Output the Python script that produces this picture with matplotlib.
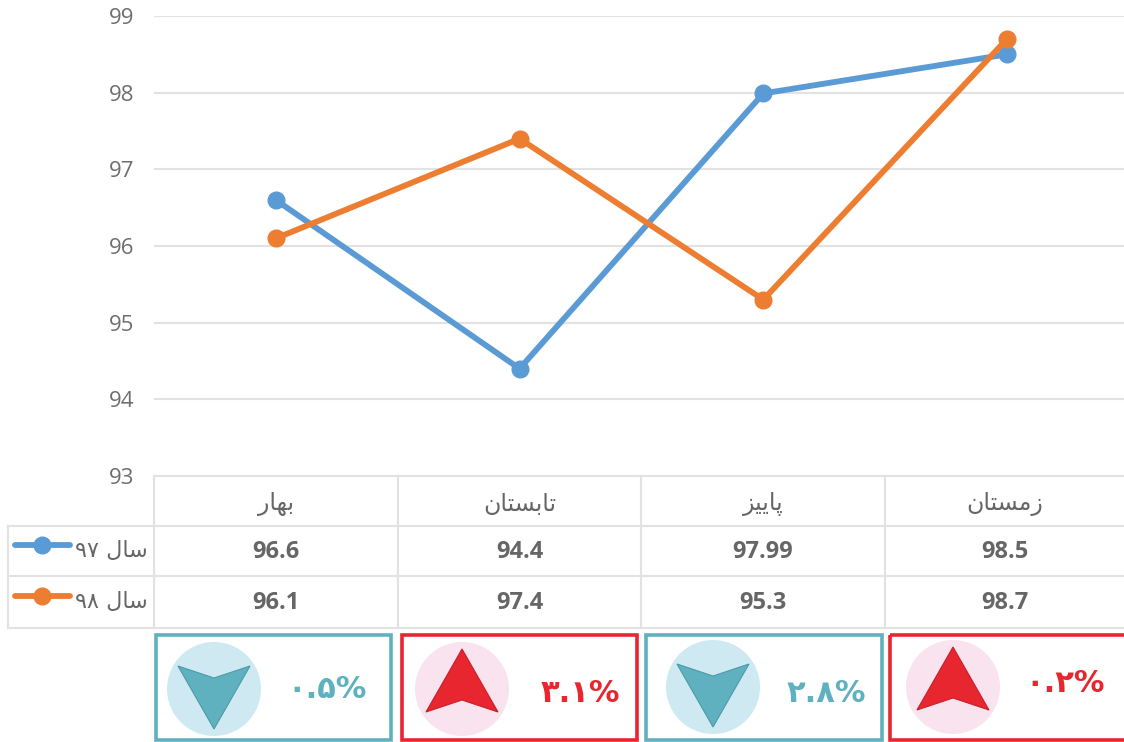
"""
Seasonal comparison, years 97 and 98, with data table and change boxes
"""
import matplotlib
matplotlib.use('Agg')
import matplotlib.pyplot as plt
from matplotlib.patches import Circle, Polygon, Rectangle

# categories, already shaped and in visual order (matplotlib has no arabic shaping)
seasons = ['\uFEAD\uFE8E\uFEEC\uFE91',  # bahar
           '\uFEE5\uFE8E\uFE98\uFEB4\uFE91\uFE8E\uFE97',  # tabestan
           '\uFEB0\uFBFF\uFBFE\uFE8E\uFB58',  # paeez
           '\uFEE5\uFE8E\uFE98\uFEB4\uFEE3\uFEAF']  # zemestan
series_labels = ['\u06F9\u06F7 \uFEDD\uFE8E\uFEB3', '\u06F9\u06F8 \uFEDD\uFE8E\uFEB3']
year97 = [96.6, 94.4, 97.99, 98.5]
year98 = [96.1, 97.4, 95.3, 98.7]
y_ticks = [93, 94, 95, 96, 97, 98, 99]
changes = ['\u06F0.\u06F5%', '\u06F3.\u06F1%', '\u06F2.\u06F8%', '\u06F0.\u06F2%']
change_up = [False, True, False, True]

BLUE = '#5B9BD5'
ORANGE = '#ED7D31'
GRID = '#E2E2E2'
TEXT = '#666666'
TEAL = '#5FB1BF'
RED = '#E7262F'

W, H = 1124, 742
fig = plt.figure(figsize=(W / 100, H / 100), dpi=100)

# overlay in pixel coordinates for the table and the boxes
over = fig.add_axes([0, 0, 1, 1], zorder=1)
over.set_xlim(0, W)
over.set_ylim(H, 0)
over.axis('off')

# =============================================================================
# Line chart
# =============================================================================
ax = fig.add_axes([154 / W, 1 - 476 / H, (W - 154) / W, 460 / H], zorder=2)
ax.patch.set_alpha(0)
ax.set_xlim(-0.5, 3.48)
ax.set_ylim(93, 99)
ax.set_yticks(y_ticks)
ax.set_xticks([])
ax.grid(axis='y', color=GRID, lw=1.5)
ax.set_axisbelow(True)
for s in ax.spines.values():
    s.set_visible(False)
ax.tick_params(axis='y', length=0, pad=14, labelcolor='#6E6E6E', labelsize=16)
for lab in ax.get_yticklabels():
    lab.set_family('Open Sans')

ax.plot(range(4), year97, color=BLUE, lw=4.2, marker='o', ms=12, clip_on=False)
ax.plot(range(4), year98, color=ORANGE, lw=4.2, marker='o', ms=12, clip_on=False)

# =============================================================================
# Data table
# =============================================================================
col_x = [154, 398, 641, 885, W]
row_y = [476, 526, 576, 628]
over.plot([154, W], [row_y[0]] * 2, color=GRID, lw=1.5)
for y in row_y[1:]:
    over.plot([8, W], [y, y], color=GRID, lw=1.5)
over.plot([8, 8], [row_y[1], row_y[3]], color=GRID, lw=1.5)
for x in col_x[:-1]:
    over.plot([x, x], [row_y[0], row_y[3]], color=GRID, lw=1.5)

for i, name in enumerate(seasons):
    cx = (col_x[i] + col_x[i + 1]) / 2
    over.text(cx, 504, name, ha='center', va='center', fontsize=17, color=TEXT, family='DejaVu Sans')
    over.text(cx, 552, str(year97[i]), ha='center', va='center', fontsize=17, color=TEXT,
              family='Open Sans', weight='bold')
    over.text(cx, 603, str(year98[i]), ha='center', va='center', fontsize=17, color=TEXT,
              family='Open Sans', weight='bold')

for y, color, label in zip([545, 596], [BLUE, ORANGE], series_labels):
    over.plot([15, 70], [y, y], color=color, lw=4.2, solid_capstyle='round')
    over.plot([42], [y], color=color, marker='o', ms=12)
    over.text(148, y + 6, label, ha='right', va='center', fontsize=16, color=TEXT, family='DejaVu Sans')

# =============================================================================
# Change boxes
# =============================================================================
box_x = [(156, 391), (402, 637), (646, 882), (890, W + 5)]
circle_x = [214, 462, 713, 953]
circle_y = [689, 689, 687, 687]
text_x = [327, 580, 826, 1065]
text_y = [689, 693, 693, 684]
for i in range(4):
    up = change_up[i]
    color = RED if up else TEAL
    x0, x1 = box_x[i]
    over.add_patch(Rectangle((x0, 635), x1 - x0, 105, fill=False, edgecolor=color, lw=2.6))
    cx, cy = circle_x[i], circle_y[i]
    over.add_patch(Circle((cx, cy), 47, facecolor='#F9E3EE' if up else '#CFE9F3', edgecolor='none'))
    if up:
        pts = [(cx, cy - 40), (cx + 36, cy + 23), (cx, cy + 11), (cx - 36, cy + 23)]
    else:
        pts = [(cx, cy + 40), (cx + 36, cy - 23), (cx, cy - 11), (cx - 36, cy - 23)]
    over.add_patch(Polygon(pts, closed=True, facecolor=color, edgecolor='#C81F2B' if up else '#4C9AA8', lw=0.8))
    over.text(text_x[i], text_y[i], changes[i], ha='center', va='center', fontsize=22, color=color,
              family='DejaVu Sans', weight='bold')

fig.savefig('out.png', dpi=100)
